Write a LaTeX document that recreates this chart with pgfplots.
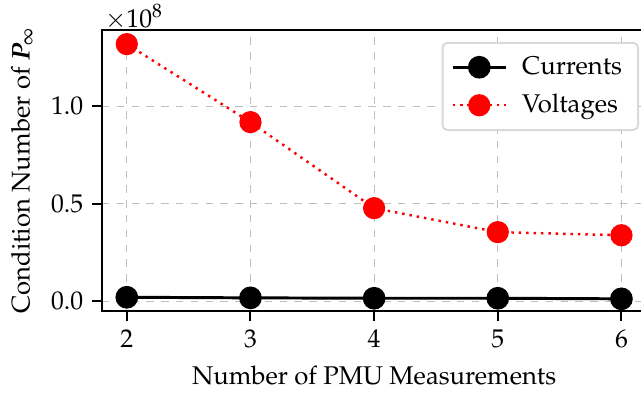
\documentclass[border=0pt]{standalone}
\usepackage[T1]{fontenc}
\usepackage{mathpazo}
\usepackage{bm}
\usepackage{pgfplots}
\pgfplotsset{compat=1.18}
\begin{document}
\fontsize{10.4}{12.5}\selectfont
\begin{tikzpicture}
\useasboundingbox (-41.4pt,-36.1pt) rectangle ++(260pt,162.3pt);
\clip (-41.4pt,-36.1pt) rectangle ++(260pt,162.3pt);
\begin{axis}[
  name=ax,
  scale only axis, width=220.7pt, height=114pt,
  xmin=1.8, xmax=6.2, ymin=-0.051, ymax=1.39,
  xtick={2,3,4,5,6}, ytick={0,0.5,1.0},
  xtick pos=bottom, ytick pos=left,
  yticklabel style={/pgf/number format/.cd, fixed, fixed zerofill, precision=1},
  tick align=outside, major tick length=4pt,
  tick style={black, line width=0.8pt},
  axis line style={line width=0.8pt},
  grid=major, grid style={dashed, gray!50, line width=0.5pt},
  xlabel={Number of PMU Measurements},
  ylabel={Condition Number of $\bm{P}_\infty$},
  legend cell align=left,
  legend style={at={(0.987,0.958)}, anchor=north east, draw=gray!30,
    line width=0.8pt, rounded corners=2pt, fill=white,
    row sep=2.5pt, inner sep=3.5pt, column sep=3pt,
    nodes={inner xsep=3pt}},
  legend image code/.code={\draw[mark repeat=2,mark phase=2]
    plot coordinates {(0cm,0cm) (0.38cm,0cm) (0.76cm,0cm)};},
]
\addplot[black, line width=1.2pt, mark=*, mark size=4pt,
  mark options={solid, fill=black, draw=black, fill opacity=1}] coordinates {
  (2,0.020) (3,0.017) (4,0.015) (5,0.015) (6,0.012)};
\addplot[red, line width=1pt, dash pattern=on 1pt off 2pt, mark=*, mark size=4pt,
  mark options={solid, fill=red, draw=red, fill opacity=1}] coordinates {
  (2,1.318) (3,0.918) (4,0.477) (5,0.354) (6,0.338)};
\legend{Currents, Voltages}
\end{axis}
\node[anchor=base west, inner sep=0pt, yshift=1.2pt, xshift=1pt] at (ax.north west) {$\times 10^{8}$};
\end{tikzpicture}
\end{document}
